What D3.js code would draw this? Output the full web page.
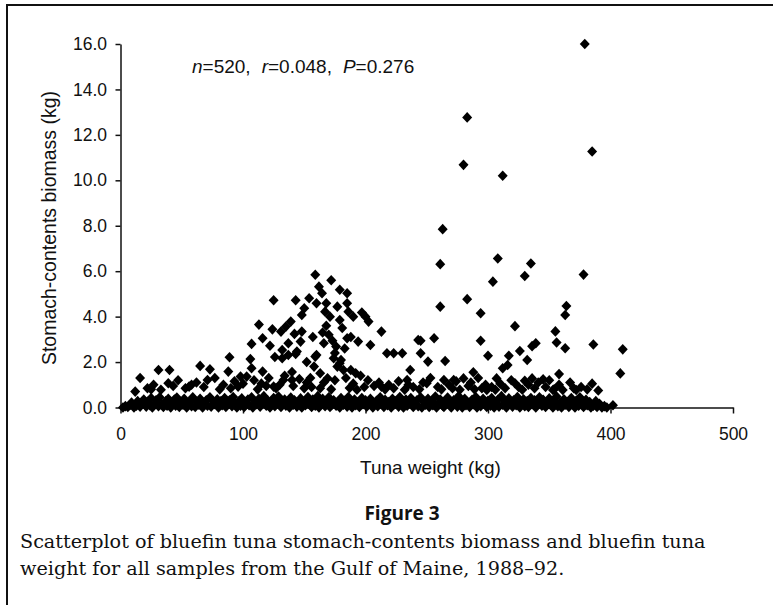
<!DOCTYPE html>
<html><head><meta charset="utf-8">
<script src="https://cdn.jsdelivr.net/npm/d3@7"></script>
<style>
body{margin:0;background:#fff;}
svg{display:block;}
</style></head><body>
<svg id="chart" width="773" height="605"></svg>
<script>
// ---- data ----
const xTicks = [0, 100, 200, 300, 400, 500];
const yTicks = [0, 2, 4, 6, 8, 10, 12, 14, 16];
const xTitle = "Tuna weight (kg)";
const yTitle = "Stomach-contents biomass (kg)";
const figureLabel = "Figure 3";
const captionLines = [
  "Scatterplot of bluefin tuna stomach-contents biomass and bluefin tuna",
  "weight for all samples from the Gulf of Maine, 1988\u201392."
];
// [tuna weight kg, stomach-contents biomass kg] — points above the dense band
const spreadPoints = [
[12,0.7],[16,1.3],[22,0.85],[25,0.8],[27,1.0],[31,1.65],[33,0.78],[39,1.07],[40,1.65],[43,0.95],[47,1.2],[53,0.85],[56,0.92],[58,1.0],[62,1.1],[65,1.83],[68,0.9],[71,1.21],[73,1.68],[77,1.3],[81,0.8],[84,1.0],[88,1.58],[89,2.21],[90,0.85],[93,1.15],[96,0.92],[98,1.36],
[100,1.05],[103,1.36],[106,2.13],[107,2.8],[107,1.73],[109,1.2],[112,0.8],[113,3.65],[115,1.05],[116,3.05],[116,1.58],[119,0.95],[121,1.3],[122,2.72],[124,3.44],[125,4.72],[126,2.22],[125,0.92],[127,0.85],[130,1.0],[131,3.34],[132,2.17],[132,2.53],[133,1.21],[134,1.4],[135,3.56],[137,2.83],[137,2.31],[139,3.78],[140,1.56],[140,1.21],[141,0.95],[142,3.24],[143,4.72],[143,2.36],[144,2.46],[146,1.25],[147,2.9],[148,4.07],[148,3.34],[150,4.37],[150,0.85],[152,1.1],[152,2.0],[154,4.81],[155,1.3],[156,0.9],[157,3.1],[158,1.8],[159,5.84],[159,2.24],[160,4.59],[160,2.31],
[162,5.32],[163,0.85],[163,1.51],[164.5,5.03],[165,3.3],[166,2.83],[166,1.1],[167,4.22],[168,4.59],[168,3.6],[169,1.29],[170,3.2],[171,4.0],[172,5.6],[172,0.8],[173,2.94],[174,2.17],[175,2.4],[175,1.2],[176,2.68],[177,4.44],[177,1.8],[179,5.18],[179,3.85],[179,1.95],[180,2.09],[181,3.5],[182,1.65],[183,2.6],[184,1.3],[185,5.03],[185,4.59],[185,3.05],[186,4.22],[187,0.86],[188,1.65],[188,3.1],[190,4.0],[190,1.05],[192,1.51],[193,0.78],[194,2.9],[196,1.4],[197,4.18],[199,0.9],[200,4.0],[202,1.2],[202.5,3.78],[204,2.75],[207,0.95],[211,1.1],[213,3.34],[213,0.92],[216,0.8],[217.5,2.39],[219,1.0],[223,2.39],[223,0.85],[227,1.15],[230,2.39],[232,0.78],[234,1.21],[235,1.0],[236.5,1.65],[239,0.9],[243,2.97],[244,0.8],[245,2.39],[245,2.94],[247,1.1],[250,1.07],[251,2.02],[253,1.3],[256,3.05],[259,0.9],
[261,6.31],[261,4.44],[262,0.8],[263,7.85],[264,1.21],[265,2.05],[268,1.0],[271,0.85],[272,1.21],[274,1.15],[277,0.78],[280,10.68],[280,1.28],[283,12.77],[283,4.77],[284,0.95],[286,1.1],[288,1.55],[289,0.8],[292,1.3],[294,4.15],[294,2.94],[295,0.85],[298,1.0],[299,0.77],[300,2.28],[303,0.9],[304,5.54],[306,0.78],[307,1.28],[308,6.56],[310,1.05],[312,10.2],[312,1.73],[314,0.85],[316,1.87],[317,2.28],[319,1.2],[322,3.58],[322,1.07],[325,0.9],[326,2.49],[328,0.78],[330,5.79],[330,1.18],[332,2.09],[333,1.0],[335,6.34],[336,1.28],[336,2.7],[338,0.85],[339,2.83],[341,1.1],[345,1.24],[347,0.9],[350,1.2],[353,0.77],[354,0.8],[355,3.35],[356,2.86],[358,1.47],[358,1.0],[361,0.77],[363,4.07],[364,4.47],[363,2.61],[367,1.1],[370,0.85],[372,0.77],[376,0.9],[378,5.85],[379,16.0],[381,0.8],[385,11.27],[385,1.05],[386,2.77],[390,0.75],[408,1.5],[410,2.56]
];
// [tuna weight kg, stomach-contents biomass kg] — dense band near zero
const nearZeroPoints = [
[2,0.0],[4,0.06],[6,0.02],[8,0.12],[9,0.22],[11,0.0],[13,0.08],[14,0.28],[16,0.04],[18,0.18],[19,0.35],
[21,0.04],[22,0.25],[24,0.1],[25,0.42],[26,0.0],[28,0.16],[29,0.32],[31,0.06],[32,0.45],[34,0.14],[35,0.02],[37,0.28],[38,0.08],[39,0.38],
[41,0.0],[42,0.2],[44,0.35],[45,0.08],[46,0.44],[48,0.02],[49,0.24],[51,0.12],[52,0.38],[54,0.0],[55,0.18],[57,0.3],[58,0.06],[59,0.45],
[61,0.02],[62,0.24],[64,0.12],[65,0.38],[67,0.0],[68,0.2],[70,0.32],[71,0.08],[73,0.45],[74,0.04],[76,0.24],[77,0.14],[79,0.36],
[80,0.0],[82,0.28],[83,0.1],[85,0.42],[86,0.02],[88,0.2],[89,0.32],[91,0.06],[92,0.46],[94,0.16],[95,0.0],[97,0.3],[98,0.08],[99,0.4],
[101,0.02],[102,0.22],[104,0.35],[105,0.1],[107,0.45],[108,0.0],[110,0.24],[111,0.14],[113,0.38],[114,0.04],[116,0.28],[117,0.5],[119,0.08],
[120,0.32],[122,0.0],[123,0.18],[125,0.42],[126,0.06],[128,0.28],[129,0.48],[131,0.02],[132,0.14],[134,0.35],[135,0.08],[137,0.24],[138,0.0],[139,0.44],
[141,0.12],[142,0.32],[144,0.04],[145,0.2],[147,0.4],[148,0.0],[150,0.26],[151,0.1],[153,0.46],[154,0.16],[156,0.02],[157,0.35],[159,0.08],[160,0.24],
[161,0.5],[162,0.0],[164,0.18],[165,0.38],[167,0.06],[168,0.28],[170,0.45],[171,0.02],[173,0.14],[174,0.32],[176,0.08],[177,0.22],[179,0.0],[180,0.42],
[182,0.12],[183,0.3],[185,0.04],[186,0.46],[188,0.18],[189,0.0],[191,0.35],[192,0.1],[194,0.24],[195,0.02],[197,0.42],[198,0.14],[200,0.32],
[201,0.04],[203,0.2],[204,0.38],[206,0.0],[207,0.12],[209,0.3],[210,0.06],[212,0.45],[213,0.18],[215,0.02],[216,0.34],[218,0.1],[219,0.24],
[221,0.0],[222,0.38],[224,0.14],[225,0.28],[227,0.04],[228,0.46],[230,0.2],[231,0.0],[233,0.35],[234,0.08],[236,0.24],[237,0.42],[239,0.02],
[240,0.16],[242,0.32],[243,0.06],[245,0.45],[246,0.0],[248,0.22],[249,0.12],[251,0.38],[252,0.02],[254,0.28],[255,0.1],[257,0.48],[258,0.0],[260,0.2],
[261,0.35],[263,0.08],[264,0.02],[266,0.26],[267,0.44],[269,0.12],[270,0.0],[272,0.32],[273,0.18],[275,0.04],[276,0.5],[278,0.24],[279,0.0],
[281,0.38],[282,0.1],[284,0.2],[285,0.02],[287,0.34],[288,0.14],[290,0.46],[291,0.0],[293,0.24],[294,0.06],[296,0.38],[297,0.16],[299,0.02],
[300,0.3],[302,0.08],[303,0.42],[305,0.0],[306,0.2],[308,0.34],[309,0.04],[311,0.5],[312,0.12],[314,0.26],[315,0.0],[317,0.4],[318,0.16],[320,0.04],
[321,0.32],[323,0.1],[324,0.46],[326,0.0],[327,0.22],[329,0.36],[330,0.06],[332,0.28],[333,0.02],[335,0.42],[336,0.14],[338,0.32],[339,0.0],
[341,0.2],[342,0.45],[344,0.08],[345,0.34],[347,0.02],[348,0.24],[350,0.4],[351,0.12],[353,0.0],[354,0.28],[356,0.48],[357,0.06],[359,0.22],
[360,0.0],[362,0.36],[363,0.12],[365,0.24],[366,0.02],[368,0.42],[369,0.16],[371,0.0],[372,0.3],[374,0.08],[375,0.45],[377,0.2],[378,0.02],
[380,0.34],[381,0.1],[383,0.24],[384,0.0],[386,0.08],[388,0.28],[389,0.02],[391,0.16],[393,0.0],[395,0.06],[397,0.0],[402,0.1]
];

// ---- drawing ----
const svg = d3.select("#chart");
const sans = "'Liberation Sans', Arial, Helvetica, sans-serif";

// page frame
svg.append("path").attr("d", "M7,605V5H773").attr("fill", "none").attr("stroke", "#111").attr("stroke-width", 2);

const x = d3.scaleLinear().domain([0, 500]).range([120.5, 733]);
const y = d3.scaleLinear().domain([0, 16]).range([407.5, 44]);

const yAxis = svg.append("g").attr("transform", `translate(${x(0)},0)`)
  .call(d3.axisLeft(y).tickValues(yTicks).tickSize(5).tickSizeOuter(0).tickPadding(8.5).tickFormat(d3.format(".1f")));
const xAxis = svg.append("g").attr("transform", `translate(0,${y(0)})`)
  .call(d3.axisBottom(x).tickValues(xTicks).tickSize(6).tickSizeOuter(0).tickPadding(14).tickFormat(d3.format("d")));
[xAxis, yAxis].forEach(g => {
  g.selectAll("path,line").attr("stroke", "#111").attr("stroke-width", 1.5);
  g.selectAll("text").attr("fill", "#111").style("font-family", sans).style("font-size", "17.5px");
});

// points
const diamond = "M0,-5.3L5,0L0,5.3L-5,0Z";
const allPoints = nearZeroPoints.concat(spreadPoints);
svg.append("g").selectAll("path").data(allPoints).join("path")
  .attr("d", diamond)
  .attr("transform", d => `translate(${x(d[0])},${y(d[1])})`)
  .attr("fill", "#000");

// axis titles
svg.append("text").attr("x", 360).attr("y", 474)
  .style("font-family", sans).style("font-size", "19px").attr("fill", "#111").text(xTitle);
svg.append("text").attr("transform", "translate(56,228) rotate(-90)").attr("text-anchor", "middle")
  .style("font-family", sans).style("font-size", "19.5px").attr("fill", "#111").text(yTitle);

// statistics annotation
const ann = svg.append("text").attr("x", 192).attr("y", 72.5)
  .style("font-family", sans).style("font-size", "19px").attr("fill", "#111");
ann.append("tspan").style("font-style", "italic").text("n");
ann.append("tspan").text("=520,");
ann.append("tspan").attr("dx", 11).style("font-style", "italic").text("r");
ann.append("tspan").text("=0.048,");
ann.append("tspan").attr("dx", 11).style("font-style", "italic").text("P");
ann.append("tspan").text("=0.276");

// figure label and caption
svg.append("text").attr("x", 402).attr("y", 520).attr("text-anchor", "middle")
  .style("font-family", "'Open Sans', 'Liberation Sans', sans-serif").style("font-weight", 700)
  .style("font-size", "19px").attr("fill", "#111").text(figureLabel);

const capFont = "'DejaVu Serif', 'Liberation Serif', serif";
const capLines = svg.append("g").selectAll("text").data(captionLines).join("text")
  .attr("x", 20).attr("y", (d, i) => 548 + i * 27)
  .style("font-family", capFont).style("font-size", "16px").attr("fill", "#111").text(d => d);
const w0 = capLines.nodes()[0].getComputedTextLength();
capLines.style("font-size", (16 * 686 / w0) + "px");
</script>
</body></html>
